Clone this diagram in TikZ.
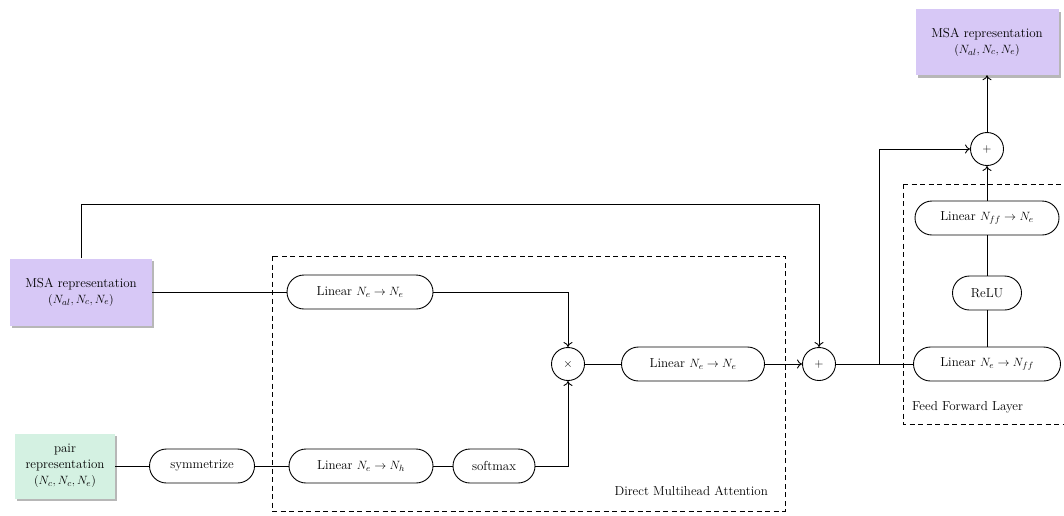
\documentclass[tikz,border=0pt]{standalone}
\usetikzlibrary{shapes.misc,shadows,arrows.meta}
\definecolor{msafill}{RGB}{215,200,246}
\definecolor{pairfill}{RGB}{212,241,226}
\begin{document}
\begin{tikzpicture}[x=1pt,y=-1pt,
  every node/.style={font=\fontsize{13}{16}\selectfont, inner sep=0pt},
  op/.style={draw, line width=0.9pt, rounded rectangle, minimum height=34pt},
  circ/.style={draw, line width=0.9pt, circle, minimum size=33pt},
  rep/.style={draw=none, align=center, minimum width=#1,
    drop shadow={shadow xshift=2pt, shadow yshift=-2.5pt, fill=black!70, opacity=0.4}},
  group/.style={draw, line width=0.9pt, dash pattern=on 5pt off 3.5pt},
  conn/.style={line width=0.9pt},
  arr/.style={conn, -{To[length=5pt,width=9pt]}}
]
\useasboundingbox (0,0) rectangle (1064,515);

% enclosing groups
\draw[group] (272,256) rectangle (785,511);
\draw[group] (903,184) -- (1070,184) (903,184) -- (903,424) -- (1070,424);
\node[anchor=east] (dmalabel) at (768,491) {Direct Multihead Attention};
\node[anchor=west] (fflabel) at (912,407) {Feed Forward Layer};

% inputs and output
\node[rep=142pt, fill=msafill, minimum height=67pt] (msa) at (81,292)
  {MSA representation\\$(N_{al},N_c,N_e)$};
\node[rep=100pt, fill=pairfill, minimum height=65pt] (pair) at (65,466)
  {pair\\representation\\$(N_c,N_c,N_e)$};
\node[rep=143pt, fill=msafill, minimum height=66pt] (out) at (987,42)
  {MSA representation\\$(N_{al},N_c,N_e)$};

% attention block
\node[op, minimum width=105pt] (sym) at (202,466) {symmetrize};
\node[op, minimum width=146pt] (lin1) at (360,292) {Linear $N_e\to N_e$};
\node[op, minimum width=144pt] (lin2) at (361,466) {Linear $N_e\to N_h$};
\node[op, minimum width=82pt] (soft) at (494,466) {softmax};
\node[circ] (mul) at (568,364) {$\times$};
\node[op, minimum width=143pt] (lin3) at (693,364) {Linear $N_e\to N_e$};
\node[circ] (add1) at (819,364) {$+$};

% feed forward block
\node[op, minimum width=147pt] (ff1) at (987,364) {Linear $N_e\to N_{ff}$};
\node[op, minimum width=69pt] (relu) at (987,293) {ReLU};
\node[op, minimum width=144pt] (ff2) at (987,218) {Linear $N_{ff}\to N_e$};
\node[circ] (add2) at (987,149) {$+$};

\coordinate (skipbend) at (819,204);
\coordinate (split) at (879,364);

% connectors
\draw[arr] (msa.north) |- (skipbend) -- (add1.north);
\draw[conn] (msa.east) -- (lin1.west);
\draw[arr] (lin1.east) -| (mul.north);
\draw[conn] (pair.east) -- (sym.west);
\draw[conn] (sym.east) -- (lin2.west);
\draw[conn] (lin2.east) -- (soft.west);
\draw[arr] (soft.east) -| (mul.south);
\draw[conn] (mul.east) -- (lin3.west);
\draw[arr] (lin3.east) -- (add1.west);
\draw[conn] (add1.east) -- (ff1.west);
\draw[arr] (split) |- (add2.west);
\draw[conn] (ff1.north) -- (relu.south);
\draw[conn] (relu.north) -- (ff2.south);
\draw[arr] (ff2.north) -- (add2.south);
\draw[arr] (add2.north) -- (out.south);
\end{tikzpicture}
\end{document}
